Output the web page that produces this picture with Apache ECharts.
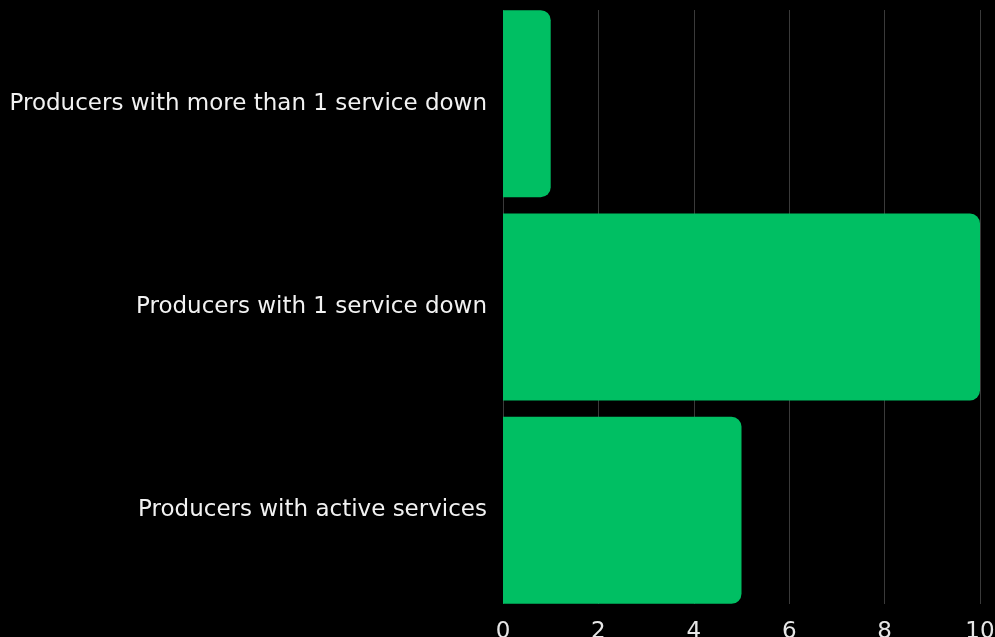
<!DOCTYPE html>
<html>
<head>
<meta charset="utf-8">
<script src="https://cdn.jsdelivr.net/npm/echarts@6/dist/echarts.min.js"></script>
<style>
html,body{margin:0;padding:0;background:#000;}
#c{width:995px;height:637px;}
</style>
</head>
<body>
<div id="c"></div>
<script>
const categories = ["Producers with more than 1 service down", "Producers with 1 service down", "Producers with active services"];
const values = [1, 10, 5];
const xTicks = [0, 2, 4, 6, 8, 10];

const FONT = "'DejaVu Sans', sans-serif";
const chart = echarts.init(document.getElementById('c'));
chart.setOption({
  backgroundColor: '#000',
  animation: false,
  grid: [
    {left: 503, right: 15, top: 2, bottom: 25, outerBoundsMode: 'none', containLabel: false},
    {left: 503, right: 15, top: 10, bottom: 33, outerBoundsMode: 'none', containLabel: false}
  ],
  xAxis: [
    {gridIndex: 0, type: 'value', min: xTicks[0], max: xTicks[xTicks.length-1], interval: 2,
     axisLabel: {show: false}, splitLine: {show: false}, axisLine: {show: false}, axisTick: {show: false}},
    {gridIndex: 1, type: 'value', min: xTicks[0], max: xTicks[xTicks.length-1], interval: 2,
     axisLabel: {show: true, color: '#e6e6e6', fontSize: 23, fontFamily: FONT, margin: 17},
     splitLine: {show: true, lineStyle: {color: '#3a3a3a', width: 1}},
     axisLine: {show: false}, axisTick: {show: false}}
  ],
  yAxis: [
    {gridIndex: 0, type: 'category', inverse: true, data: categories,
     axisLabel: {color: '#f2f2f2', fontSize: 23, fontFamily: FONT, margin: 16, lineHeight: 23, padding: [5, 0, 0, 0]},
     axisLine: {show: false}, axisTick: {show: false}},
    {gridIndex: 1, type: 'category', inverse: true, data: categories,
     axisLabel: {show: false}, axisLine: {show: false}, axisTick: {show: false}}
  ],
  series: [{
    type: 'bar', xAxisIndex: 0, yAxisIndex: 0,
    data: values,
    barCategoryGap: '8%',
    itemStyle: {color: '#00bf63', borderRadius: [0, 10, 10, 0]}
  }]
});
</script>
</body>
</html>
